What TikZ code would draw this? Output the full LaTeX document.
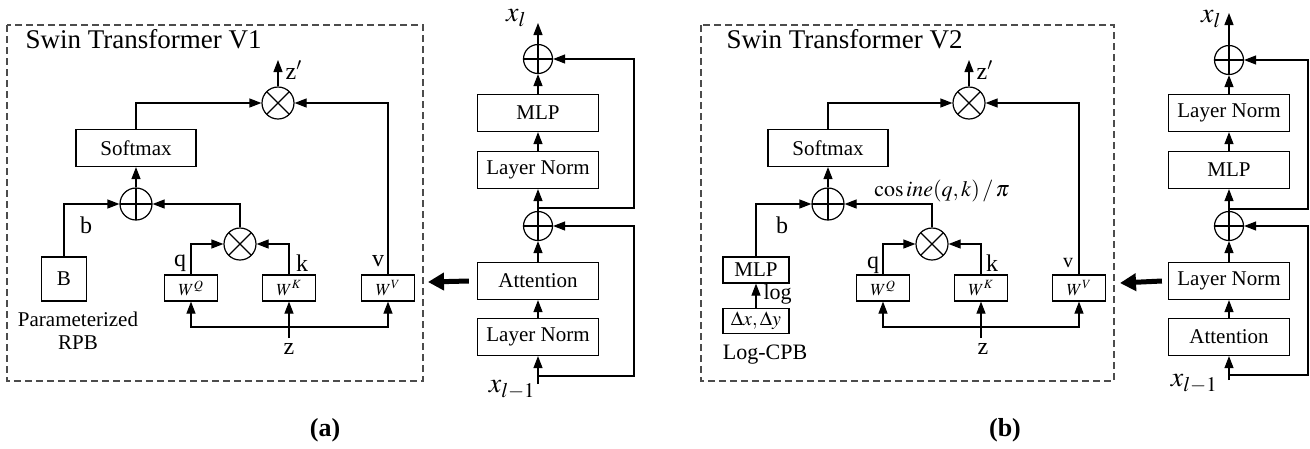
\documentclass[tikz,border=0pt]{standalone}
\usepackage{mathptmx}
\usepackage{fontspec}
\setmainfont{Liberation Serif}
\usetikzlibrary{arrows.meta}
\newcommand{\fsz}[1]{\fontsize{#1}{#1}\selectfont}
\tikzset{
  blk/.style={draw, inner sep=0pt, minimum width=121pt, minimum height=37pt, font=\fsz{21}},
  wbox/.style={draw, inner sep=0pt, minimum width=53pt, minimum height=26pt, font=\fsz{17}},
  sumnode/.style={circle, draw, inner sep=0pt, minimum size=#1, path picture={
      \draw (path picture bounding box.north) -- (path picture bounding box.south)
            (path picture bounding box.west) -- (path picture bounding box.east);}},
  sumnode/.default=29pt,
  mulnode/.style={circle, draw, inner sep=0pt, minimum size=32pt, path picture={
      \draw (path picture bounding box.north west) -- (path picture bounding box.south east)
            (path picture bounding box.south west) -- (path picture bounding box.north east);}},
  dmulnode/.style={mulnode, append after command={
      (\tikzlastnode.center) circle[radius=11pt]}},
  arr/.style={-{Triangle[length=12pt,width=9pt]}},
  bigarr/.style={line width=5pt, -{Triangle[length=16pt,width=17pt]}},
  frame/.style={draw=black!70, line width=1.1pt, dash pattern=on 7pt off 4pt},
  lbl/.style={font=\fsz{24}, inner sep=0pt},
  small/.style={font=\fsz{21}, inner sep=0pt},
}
\begin{document}
\begin{tikzpicture}[x=1pt, y=-1pt, line width=1.2pt]
\useasboundingbox (0,0) rectangle (1310,448);

% ---- (a) Swin Transformer V1
\draw[frame] (7,25) rectangle (423,381);
\node[anchor=base west, inner sep=0pt, font=\fsz{27}] (title1) at (25,48) {Swin Transformer V1};
\node[mulnode] (m1) at (278,103) {};
\node[blk, minimum width=120pt] (sm1) at (136,148) {Softmax};
\node[sumnode=32pt] (s1) at (136,204) {};
\node[mulnode] (qk1) at (240,244) {};
\node[draw, inner sep=0pt, minimum width=45pt, minimum height=44pt, font=\fsz{21}] (B1) at (64,279) {B};
\node[wbox] (wq1) at (191,288) {$W^{Q}$};
\node[wbox] (wk1) at (289,288) {$W^{K}$};
\node[wbox] (wv1) at (388,288) {$W^{V}$};
\node[small] (rpb1) at (78,319) {Parameterized};
\node[small] (rpb2) at (78,343) {RPB};
\coordinate (bus1) at (289,327);
\coordinate (zin1) at (289,338);
\coordinate (zout1) at (278,60);

\draw[arr] (sm1.north) |- (m1.west);
\draw[arr] (wv1.north) |- (m1.east);
\draw[arr] (m1.north) -- (zout1);
\node[lbl, anchor=west] (zp1) at (285,70) {z$^{\prime}$};
\draw[arr] (s1.north) -- (sm1.south);
\draw[arr] (B1.north) |- (s1.west);
\draw[arr] (qk1.north) |- (s1.east);
\draw[arr] (wq1.north) |- (qk1.west);
\draw[arr] (wk1.north) |- (qk1.east);
\node[lbl] (b1) at (86,225) {b};
\node[lbl] (q1) at (180,263) {q};
\node[lbl] (k1) at (302,263) {k};
\node[lbl] (v1) at (378,261) {v};
\draw[arr] (bus1) -| (wq1.south);
\draw[arr] (bus1) -| (wv1.south);
\draw[arr] (zin1) -- (wk1.south);
\node[lbl] (z1) at (289,349) {z};

% block V1
\node[sumnode] (top1) at (538,59) {};
\node[blk] (mlp1) at (538,113) {MLP};
\node[blk] (ln1b) at (538,170) {Layer Norm};
\node[sumnode] (mid1) at (538,226) {};
\node[blk] (att1) at (538,281) {Attention};
\node[blk] (ln1a) at (538,337) {Layer Norm};
\coordinate (xin1) at (538,384);
\coordinate (xout1) at (538,23);
\coordinate (res1a) at (538,376);
\coordinate (res1b) at (538,208);
\draw[arr] (xin1) -- (ln1a.south);
\draw[arr] (ln1a) -- (att1);
\draw[arr] (att1) -- (mid1);
\draw[arr] (mid1) -- (ln1b);
\draw[arr] (ln1b) -- (mlp1);
\draw[arr] (mlp1) -- (top1);
\draw[arr] (top1) -- (xout1);
\draw[arr] (res1a) -- ++(96,0) |- (mid1.east);
\draw[arr] (res1b) -- ++(96,0) |- (top1.east);
\node[inner sep=0pt, font=\fsz{28}] (xl1) at (516,18) {$x_{l}$};
\node[inner sep=0pt, font=\fsz{28}] (xp1) at (512,390) {$x_{l-1}$};
\coordinate (pt1) at (428,282);
\draw[bigarr] ([xshift=-8pt]att1.west) -- (pt1);

% ---- (b) Swin Transformer V2
\draw[frame] (701,25) rectangle (1114,381);
\node[anchor=base west, inner sep=0pt, font=\fsz{27}] (title2) at (726,48) {Swin Transformer V2};
\node[mulnode] (m2) at (969,103) {};
\node[blk, minimum width=120pt] (sm2) at (828,148) {Softmax};
\node[sumnode=32pt] (s2) at (828,204) {};
\node[dmulnode] (qk2) at (932,244) {};
\node[draw, inner sep=0pt, minimum width=66pt, minimum height=26pt, font=\fsz{21}] (mlpb) at (756,270) {MLP};
\node[draw, inner sep=0pt, minimum width=66pt, minimum height=25pt, font=\fsz{20}] (dxy) at (756,321) {$\Delta x,\Delta y$};
\node[wbox] (wq2) at (883,288) {$W^{Q}$};
\node[wbox] (wk2) at (981,288) {$W^{K}$};
\node[wbox] (wv2) at (1079,288) {$W^{V}$};
\node[small, font=\fsz{22}] (cpb) at (765,355) {Log-CPB};
\node[inner sep=0pt, font=\fsz{22}] (cos2) at (942,191) {$\cos ine(q,k)\,/\,\pi$};
\coordinate (bus2) at (981,327);
\coordinate (zin2) at (981,338);
\coordinate (zout2) at (969,60);

\draw[arr] (sm2.north) |- (m2.west);
\draw[arr] (wv2.north) |- (m2.east);
\draw[arr] (m2.north) -- (zout2);
\node[lbl, anchor=west] (zp2) at (976,70) {z$^{\prime}$};
\draw[arr] (s2.north) -- (sm2.south);
\draw[arr] (mlpb.north) |- (s2.west);
\draw[arr] (qk2.north) |- (s2.east);
\draw[arr] (wq2.north) |- (qk2.west);
\draw[arr] (wk2.north) |- (qk2.east);
\draw[arr] (dxy) -- (mlpb);
\node[small, font=\fsz{22}, anchor=west] (log2) at (763,294) {log};
\node[lbl] (b2) at (782,225) {b};
\node[lbl] (q2) at (873,265) {q};
\node[lbl] (k2) at (992,263) {k};
\node[lbl, font=\fsz{20}] (v2) at (1068,263) {v};
\draw[arr] (bus2) -| (wq2.south);
\draw[arr] (bus2) -| (wv2.south);
\draw[arr] (zin2) -- (wk2.south);
\node[lbl] (z2) at (983,349) {z};

% block V2
\node[sumnode] (top2) at (1229,60) {};
\node[blk] (ln2b) at (1229,113) {Layer Norm};
\node[blk] (mlp2) at (1229,170) {MLP};
\node[sumnode] (mid2) at (1229,226) {};
\node[blk] (ln2a) at (1229,281) {Layer Norm};
\node[blk] (att2) at (1229,337) {Attention};
\coordinate (xin2) at (1229,380);
\coordinate (xout2) at (1229,13);
\coordinate (res2a) at (1229,375);
\coordinate (res2b) at (1229,209);
\draw[arr] (xin2) -- (att2.south);
\draw[arr] (att2) -- (ln2a);
\draw[arr] (ln2a) -- (mid2);
\draw[arr] (mid2) -- (mlp2);
\draw[arr] (mlp2) -- (ln2b);
\draw[arr] (ln2b) -- (top2);
\draw[arr] (top2) -- (xout2);
\draw[arr] (res2a) -- ++(79,0) |- (mid2.east);
\draw[arr] (res2b) -- ++(79,0) |- (top2.east);
\node[inner sep=0pt, font=\fsz{28}] (xl2) at (1211,19) {$x_{l}$};
\node[inner sep=0pt, font=\fsz{28}] (xp2) at (1194,384) {$x_{l-1}$};
\coordinate (pt2) at (1120,283);
\draw[bigarr] ([xshift=-6pt]ln2a.west) -- (pt2);

% captions
\node[font=\bfseries\fsz{26}] (capa) at (325,430) {(a)};
\node[font=\bfseries\fsz{26}] (capb) at (1005,430) {(b)};
\end{tikzpicture}
\end{document}
